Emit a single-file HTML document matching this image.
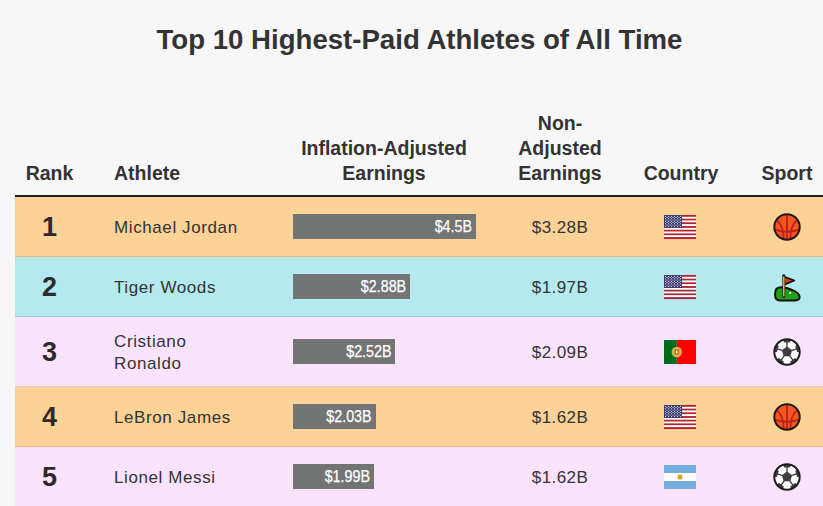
<!DOCTYPE html>
<html><head><meta charset="utf-8"><style>
html,body{margin:0;padding:0;}
body{width:823px;height:506px;overflow:hidden;background:#f7f7f7;position:relative;font-family:"Liberation Sans",sans-serif;}
.t{position:absolute;line-height:1;white-space:nowrap;}
.row{position:absolute;left:15px;width:808px;border-bottom:1px solid rgba(0,0,0,0.1);}
.hline{position:absolute;left:15px;width:808px;top:195px;height:2px;background:#1e1e1e;}
.bar{position:absolute;left:293px;height:24.5px;background:#737474;}
.ic{position:absolute;overflow:visible;}
</style></head><body>
<div class="hline"></div>
<div class="t" style="left:0px;top:26.14px;font-size:27.6px;font-weight:bold;color:#333;width:839px;text-align:center;">Top 10 Highest-Paid Athletes of All Time</div>
<div class="t" style="left:0px;top:163.89px;font-size:19.5px;font-weight:bold;color:#333333;width:99px;text-align:center;">Rank</div>
<div class="t" style="left:114px;top:163.89px;font-size:19.5px;font-weight:bold;color:#333333;">Athlete</div>
<div class="t" style="left:184px;top:138.99px;font-size:19.5px;font-weight:bold;color:#333333;width:400px;text-align:center;">Inflation-Adjusted</div>
<div class="t" style="left:184px;top:163.89px;font-size:19.5px;font-weight:bold;color:#333333;width:400px;text-align:center;">Earnings</div>
<div class="t" style="left:460px;top:114.09px;font-size:19.5px;font-weight:bold;color:#333333;width:200px;text-align:center;">Non-</div>
<div class="t" style="left:460px;top:138.99px;font-size:19.5px;font-weight:bold;color:#333333;width:200px;text-align:center;">Adjusted</div>
<div class="t" style="left:460px;top:163.89px;font-size:19.5px;font-weight:bold;color:#333333;width:200px;text-align:center;">Earnings</div>
<div class="t" style="left:581px;top:163.89px;font-size:19.5px;font-weight:bold;color:#333333;width:200px;text-align:center;">Country</div>
<div class="t" style="left:687px;top:163.89px;font-size:19.5px;font-weight:bold;color:#333333;width:200px;text-align:center;">Sport</div>
<div class="row" style="top:197px;height:59px;background:#fdd296"></div>
<div class="t" style="left:0px;top:214.04px;font-size:27px;font-weight:bold;color:#2b2b2b;width:99px;text-align:center;">1</div>
<div class="t" style="left:114px;top:219.01px;font-size:17px;font-weight:normal;color:#333333;letter-spacing:0.6px;">Michael Jordan</div>
<div class="bar" style="top:214.25px;width:183.00px"></div>
<div class="t" style="left:293px;top:218.31px;font-size:17px;font-weight:normal;color:#ffffff;width:179.0px;text-align:right;transform:scaleX(0.84);transform-origin:100% 50%;-webkit-text-stroke:0.25px #fff;">$4.5B</div>
<div class="t" style="left:460px;top:219.01px;font-size:17px;font-weight:normal;color:#333333;width:200px;text-align:center;letter-spacing:0.4px;">$3.28B</div>
<svg class="ic" style="left:664px;top:215px" width="32" height="24" viewBox="0 0 32 24"><rect x="0" y="0.000" width="32" height="1.896" fill="#b22234"/><rect x="0" y="1.846" width="32" height="1.896" fill="#ffffff"/><rect x="0" y="3.692" width="32" height="1.896" fill="#b22234"/><rect x="0" y="5.538" width="32" height="1.896" fill="#ffffff"/><rect x="0" y="7.385" width="32" height="1.896" fill="#b22234"/><rect x="0" y="9.231" width="32" height="1.896" fill="#ffffff"/><rect x="0" y="11.077" width="32" height="1.896" fill="#b22234"/><rect x="0" y="12.923" width="32" height="1.896" fill="#ffffff"/><rect x="0" y="14.769" width="32" height="1.896" fill="#b22234"/><rect x="0" y="16.615" width="32" height="1.896" fill="#ffffff"/><rect x="0" y="18.462" width="32" height="1.896" fill="#b22234"/><rect x="0" y="20.308" width="32" height="1.896" fill="#ffffff"/><rect x="0" y="22.154" width="32" height="1.896" fill="#b22234"/><rect x="0" y="0" width="18" height="12.923" fill="#3c3b6e"/><circle cx="1.50" cy="1.30" r="0.55" fill="#fff"/><circle cx="4.50" cy="1.30" r="0.55" fill="#fff"/><circle cx="7.50" cy="1.30" r="0.55" fill="#fff"/><circle cx="10.50" cy="1.30" r="0.55" fill="#fff"/><circle cx="13.50" cy="1.30" r="0.55" fill="#fff"/><circle cx="16.50" cy="1.30" r="0.55" fill="#fff"/><circle cx="1.50" cy="3.80" r="0.55" fill="#fff"/><circle cx="4.50" cy="3.80" r="0.55" fill="#fff"/><circle cx="7.50" cy="3.80" r="0.55" fill="#fff"/><circle cx="10.50" cy="3.80" r="0.55" fill="#fff"/><circle cx="13.50" cy="3.80" r="0.55" fill="#fff"/><circle cx="16.50" cy="3.80" r="0.55" fill="#fff"/><circle cx="1.50" cy="6.30" r="0.55" fill="#fff"/><circle cx="4.50" cy="6.30" r="0.55" fill="#fff"/><circle cx="7.50" cy="6.30" r="0.55" fill="#fff"/><circle cx="10.50" cy="6.30" r="0.55" fill="#fff"/><circle cx="13.50" cy="6.30" r="0.55" fill="#fff"/><circle cx="16.50" cy="6.30" r="0.55" fill="#fff"/><circle cx="1.50" cy="8.80" r="0.55" fill="#fff"/><circle cx="4.50" cy="8.80" r="0.55" fill="#fff"/><circle cx="7.50" cy="8.80" r="0.55" fill="#fff"/><circle cx="10.50" cy="8.80" r="0.55" fill="#fff"/><circle cx="13.50" cy="8.80" r="0.55" fill="#fff"/><circle cx="16.50" cy="8.80" r="0.55" fill="#fff"/><circle cx="1.50" cy="11.30" r="0.55" fill="#fff"/><circle cx="4.50" cy="11.30" r="0.55" fill="#fff"/><circle cx="7.50" cy="11.30" r="0.55" fill="#fff"/><circle cx="10.50" cy="11.30" r="0.55" fill="#fff"/><circle cx="13.50" cy="11.30" r="0.55" fill="#fff"/><circle cx="16.50" cy="11.30" r="0.55" fill="#fff"/><circle cx="3.00" cy="2.55" r="0.55" fill="#fff"/><circle cx="6.00" cy="2.55" r="0.55" fill="#fff"/><circle cx="9.00" cy="2.55" r="0.55" fill="#fff"/><circle cx="12.00" cy="2.55" r="0.55" fill="#fff"/><circle cx="15.00" cy="2.55" r="0.55" fill="#fff"/><circle cx="3.00" cy="5.05" r="0.55" fill="#fff"/><circle cx="6.00" cy="5.05" r="0.55" fill="#fff"/><circle cx="9.00" cy="5.05" r="0.55" fill="#fff"/><circle cx="12.00" cy="5.05" r="0.55" fill="#fff"/><circle cx="15.00" cy="5.05" r="0.55" fill="#fff"/><circle cx="3.00" cy="7.55" r="0.55" fill="#fff"/><circle cx="6.00" cy="7.55" r="0.55" fill="#fff"/><circle cx="9.00" cy="7.55" r="0.55" fill="#fff"/><circle cx="12.00" cy="7.55" r="0.55" fill="#fff"/><circle cx="15.00" cy="7.55" r="0.55" fill="#fff"/><circle cx="3.00" cy="10.05" r="0.55" fill="#fff"/><circle cx="6.00" cy="10.05" r="0.55" fill="#fff"/><circle cx="9.00" cy="10.05" r="0.55" fill="#fff"/><circle cx="12.00" cy="10.05" r="0.55" fill="#fff"/><circle cx="15.00" cy="10.05" r="0.55" fill="#fff"/></svg>
<svg class="ic" style="left:773.45px;top:213.35px" width="28" height="28" viewBox="0 0 28 28"><circle cx="14" cy="14" r="12.7" fill="#f4561d"/><g fill="none" stroke="#b8221e" stroke-width="1.8"><line x1="14" y1="1.5" x2="14" y2="26.5"/><path d="M3.7 7.3 Q11 13 10.6 26"/><path d="M24.3 7.3 Q17 13 17.4 26"/><path d="M1.4 16.4 Q14 21.5 26.6 16.4"/></g><circle cx="14" cy="14" r="12.7" fill="none" stroke="#231815" stroke-width="2"/></svg>
<div class="row" style="top:257px;height:59px;background:#b3e9ef"></div>
<div class="t" style="left:0px;top:274.04px;font-size:27px;font-weight:bold;color:#2b2b2b;width:99px;text-align:center;">2</div>
<div class="t" style="left:114px;top:279.01px;font-size:17px;font-weight:normal;color:#333333;letter-spacing:0.6px;">Tiger Woods</div>
<div class="bar" style="top:274.25px;width:117.12px"></div>
<div class="t" style="left:293px;top:278.31px;font-size:17px;font-weight:normal;color:#ffffff;width:113.12px;text-align:right;transform:scaleX(0.84);transform-origin:100% 50%;-webkit-text-stroke:0.25px #fff;">$2.88B</div>
<div class="t" style="left:460px;top:279.01px;font-size:17px;font-weight:normal;color:#333333;width:200px;text-align:center;letter-spacing:0.4px;">$1.97B</div>
<svg class="ic" style="left:664px;top:275px" width="32" height="24" viewBox="0 0 32 24"><rect x="0" y="0.000" width="32" height="1.896" fill="#b22234"/><rect x="0" y="1.846" width="32" height="1.896" fill="#ffffff"/><rect x="0" y="3.692" width="32" height="1.896" fill="#b22234"/><rect x="0" y="5.538" width="32" height="1.896" fill="#ffffff"/><rect x="0" y="7.385" width="32" height="1.896" fill="#b22234"/><rect x="0" y="9.231" width="32" height="1.896" fill="#ffffff"/><rect x="0" y="11.077" width="32" height="1.896" fill="#b22234"/><rect x="0" y="12.923" width="32" height="1.896" fill="#ffffff"/><rect x="0" y="14.769" width="32" height="1.896" fill="#b22234"/><rect x="0" y="16.615" width="32" height="1.896" fill="#ffffff"/><rect x="0" y="18.462" width="32" height="1.896" fill="#b22234"/><rect x="0" y="20.308" width="32" height="1.896" fill="#ffffff"/><rect x="0" y="22.154" width="32" height="1.896" fill="#b22234"/><rect x="0" y="0" width="18" height="12.923" fill="#3c3b6e"/><circle cx="1.50" cy="1.30" r="0.55" fill="#fff"/><circle cx="4.50" cy="1.30" r="0.55" fill="#fff"/><circle cx="7.50" cy="1.30" r="0.55" fill="#fff"/><circle cx="10.50" cy="1.30" r="0.55" fill="#fff"/><circle cx="13.50" cy="1.30" r="0.55" fill="#fff"/><circle cx="16.50" cy="1.30" r="0.55" fill="#fff"/><circle cx="1.50" cy="3.80" r="0.55" fill="#fff"/><circle cx="4.50" cy="3.80" r="0.55" fill="#fff"/><circle cx="7.50" cy="3.80" r="0.55" fill="#fff"/><circle cx="10.50" cy="3.80" r="0.55" fill="#fff"/><circle cx="13.50" cy="3.80" r="0.55" fill="#fff"/><circle cx="16.50" cy="3.80" r="0.55" fill="#fff"/><circle cx="1.50" cy="6.30" r="0.55" fill="#fff"/><circle cx="4.50" cy="6.30" r="0.55" fill="#fff"/><circle cx="7.50" cy="6.30" r="0.55" fill="#fff"/><circle cx="10.50" cy="6.30" r="0.55" fill="#fff"/><circle cx="13.50" cy="6.30" r="0.55" fill="#fff"/><circle cx="16.50" cy="6.30" r="0.55" fill="#fff"/><circle cx="1.50" cy="8.80" r="0.55" fill="#fff"/><circle cx="4.50" cy="8.80" r="0.55" fill="#fff"/><circle cx="7.50" cy="8.80" r="0.55" fill="#fff"/><circle cx="10.50" cy="8.80" r="0.55" fill="#fff"/><circle cx="13.50" cy="8.80" r="0.55" fill="#fff"/><circle cx="16.50" cy="8.80" r="0.55" fill="#fff"/><circle cx="1.50" cy="11.30" r="0.55" fill="#fff"/><circle cx="4.50" cy="11.30" r="0.55" fill="#fff"/><circle cx="7.50" cy="11.30" r="0.55" fill="#fff"/><circle cx="10.50" cy="11.30" r="0.55" fill="#fff"/><circle cx="13.50" cy="11.30" r="0.55" fill="#fff"/><circle cx="16.50" cy="11.30" r="0.55" fill="#fff"/><circle cx="3.00" cy="2.55" r="0.55" fill="#fff"/><circle cx="6.00" cy="2.55" r="0.55" fill="#fff"/><circle cx="9.00" cy="2.55" r="0.55" fill="#fff"/><circle cx="12.00" cy="2.55" r="0.55" fill="#fff"/><circle cx="15.00" cy="2.55" r="0.55" fill="#fff"/><circle cx="3.00" cy="5.05" r="0.55" fill="#fff"/><circle cx="6.00" cy="5.05" r="0.55" fill="#fff"/><circle cx="9.00" cy="5.05" r="0.55" fill="#fff"/><circle cx="12.00" cy="5.05" r="0.55" fill="#fff"/><circle cx="15.00" cy="5.05" r="0.55" fill="#fff"/><circle cx="3.00" cy="7.55" r="0.55" fill="#fff"/><circle cx="6.00" cy="7.55" r="0.55" fill="#fff"/><circle cx="9.00" cy="7.55" r="0.55" fill="#fff"/><circle cx="12.00" cy="7.55" r="0.55" fill="#fff"/><circle cx="15.00" cy="7.55" r="0.55" fill="#fff"/><circle cx="3.00" cy="10.05" r="0.55" fill="#fff"/><circle cx="6.00" cy="10.05" r="0.55" fill="#fff"/><circle cx="9.00" cy="10.05" r="0.55" fill="#fff"/><circle cx="12.00" cy="10.05" r="0.55" fill="#fff"/><circle cx="15.00" cy="10.05" r="0.55" fill="#fff"/></svg>
<svg class="ic" style="left:773px;top:273.5px" width="28" height="28" viewBox="0 0 28 28"><path d="M2.1 19.5 Q2.1 13.3 8 13.3 Q13 13.3 20 16.4 Q26.6 19.3 26.6 23 Q26.6 26.4 22 26.4 L7 26.4 Q2.1 26.4 2.1 21 Z" fill="#1fa01f" stroke="#111" stroke-width="2" stroke-linejoin="round"/><path d="M10.8 2.6 L21.4 6.5 L10.8 10.9 Z" fill="#ec3a22" stroke="#111" stroke-width="1.7" stroke-linejoin="round"/><line x1="10.8" y1="1.6" x2="10.8" y2="22.6" stroke="#111" stroke-width="2.8" stroke-linecap="round"/><line x1="10.8" y1="2.4" x2="10.8" y2="22.4" stroke="#f5c832" stroke-width="1.4"/><circle cx="17.2" cy="19" r="1.1" fill="#e8ffe8"/></svg>
<div class="row" style="top:317px;height:69px;background:#fbe3fe"></div>
<div class="t" style="left:0px;top:339.04px;font-size:27px;font-weight:bold;color:#2b2b2b;width:99px;text-align:center;">3</div>
<div class="t" style="left:114px;top:333.21px;font-size:17px;font-weight:normal;color:#333333;letter-spacing:0.6px;">Cristiano</div>
<div class="t" style="left:114px;top:354.61px;font-size:17px;font-weight:normal;color:#333333;letter-spacing:0.6px;">Ronaldo</div>
<div class="bar" style="top:339.25px;width:102.48px"></div>
<div class="t" style="left:293px;top:343.31px;font-size:17px;font-weight:normal;color:#ffffff;width:98.48px;text-align:right;transform:scaleX(0.84);transform-origin:100% 50%;-webkit-text-stroke:0.25px #fff;">$2.52B</div>
<div class="t" style="left:460px;top:344.01px;font-size:17px;font-weight:normal;color:#333333;width:200px;text-align:center;letter-spacing:0.4px;">$2.09B</div>
<svg class="ic" style="left:664px;top:340px" width="32" height="24" viewBox="0 0 32 24"><rect width="12.8" height="24" fill="#006a1e"/><rect x="12.8" width="19.2" height="24" fill="#ff0000"/><circle cx="12.8" cy="12" r="4.6" fill="#c9b24a" stroke="#d9bf3c" stroke-width="1.2"/><rect x="10.9" y="9.6" width="3.8" height="4.8" rx="1.2" fill="#e03a2a"/><rect x="11.9" y="10.6" width="1.8" height="2.8" fill="#ffffff"/></svg>
<svg class="ic" style="left:773.30px;top:338.35px" width="28" height="28" viewBox="0 0 28 28"><defs><clipPath id="sc1"><circle cx="14" cy="14" r="12.5"/></clipPath></defs><circle cx="14" cy="14" r="12.5" fill="#ffffff"/><g clip-path="url(#sc1)" fill="#3d3d3d" stroke="#3d3d3d" stroke-width="1.3" stroke-linejoin="round"><polygon points="14.00,9.40 18.37,12.58 16.70,17.72 11.30,17.72 9.63,12.58"/><line x1="14.00" y1="9.40" x2="14.00" y2="2.50"/><polygon points="14.00,-4.20 18.18,-1.16 16.59,3.76 11.41,3.76 9.82,-1.16"/><line x1="18.37" y1="12.58" x2="24.94" y2="10.45"/><polygon points="31.31,8.38 29.71,13.30 24.54,13.30 22.94,8.38 27.12,5.34"/><line x1="16.70" y1="17.72" x2="20.76" y2="23.30"/><polygon points="24.70,28.72 19.53,28.72 17.93,23.80 22.11,20.76 26.30,23.80"/><line x1="11.30" y1="17.72" x2="7.24" y2="23.30"/><polygon points="3.30,28.72 1.70,23.80 5.89,20.76 10.07,23.80 8.47,28.72"/><line x1="9.63" y1="12.58" x2="3.06" y2="10.45"/><polygon points="-3.31,8.38 0.88,5.34 5.06,8.38 3.46,13.30 -1.71,13.30"/></g><circle cx="14" cy="14" r="12.7" fill="none" stroke="#1e1e1e" stroke-width="2"/></svg>
<div class="row" style="top:387px;height:59px;background:#fdd296"></div>
<div class="t" style="left:0px;top:404.04px;font-size:27px;font-weight:bold;color:#2b2b2b;width:99px;text-align:center;">4</div>
<div class="t" style="left:114px;top:409.01px;font-size:17px;font-weight:normal;color:#333333;letter-spacing:0.6px;">LeBron James</div>
<div class="bar" style="top:404.25px;width:82.55px"></div>
<div class="t" style="left:293px;top:408.31px;font-size:17px;font-weight:normal;color:#ffffff;width:78.55px;text-align:right;transform:scaleX(0.84);transform-origin:100% 50%;-webkit-text-stroke:0.25px #fff;">$2.03B</div>
<div class="t" style="left:460px;top:409.01px;font-size:17px;font-weight:normal;color:#333333;width:200px;text-align:center;letter-spacing:0.4px;">$1.62B</div>
<svg class="ic" style="left:664px;top:405px" width="32" height="24" viewBox="0 0 32 24"><rect x="0" y="0.000" width="32" height="1.896" fill="#b22234"/><rect x="0" y="1.846" width="32" height="1.896" fill="#ffffff"/><rect x="0" y="3.692" width="32" height="1.896" fill="#b22234"/><rect x="0" y="5.538" width="32" height="1.896" fill="#ffffff"/><rect x="0" y="7.385" width="32" height="1.896" fill="#b22234"/><rect x="0" y="9.231" width="32" height="1.896" fill="#ffffff"/><rect x="0" y="11.077" width="32" height="1.896" fill="#b22234"/><rect x="0" y="12.923" width="32" height="1.896" fill="#ffffff"/><rect x="0" y="14.769" width="32" height="1.896" fill="#b22234"/><rect x="0" y="16.615" width="32" height="1.896" fill="#ffffff"/><rect x="0" y="18.462" width="32" height="1.896" fill="#b22234"/><rect x="0" y="20.308" width="32" height="1.896" fill="#ffffff"/><rect x="0" y="22.154" width="32" height="1.896" fill="#b22234"/><rect x="0" y="0" width="18" height="12.923" fill="#3c3b6e"/><circle cx="1.50" cy="1.30" r="0.55" fill="#fff"/><circle cx="4.50" cy="1.30" r="0.55" fill="#fff"/><circle cx="7.50" cy="1.30" r="0.55" fill="#fff"/><circle cx="10.50" cy="1.30" r="0.55" fill="#fff"/><circle cx="13.50" cy="1.30" r="0.55" fill="#fff"/><circle cx="16.50" cy="1.30" r="0.55" fill="#fff"/><circle cx="1.50" cy="3.80" r="0.55" fill="#fff"/><circle cx="4.50" cy="3.80" r="0.55" fill="#fff"/><circle cx="7.50" cy="3.80" r="0.55" fill="#fff"/><circle cx="10.50" cy="3.80" r="0.55" fill="#fff"/><circle cx="13.50" cy="3.80" r="0.55" fill="#fff"/><circle cx="16.50" cy="3.80" r="0.55" fill="#fff"/><circle cx="1.50" cy="6.30" r="0.55" fill="#fff"/><circle cx="4.50" cy="6.30" r="0.55" fill="#fff"/><circle cx="7.50" cy="6.30" r="0.55" fill="#fff"/><circle cx="10.50" cy="6.30" r="0.55" fill="#fff"/><circle cx="13.50" cy="6.30" r="0.55" fill="#fff"/><circle cx="16.50" cy="6.30" r="0.55" fill="#fff"/><circle cx="1.50" cy="8.80" r="0.55" fill="#fff"/><circle cx="4.50" cy="8.80" r="0.55" fill="#fff"/><circle cx="7.50" cy="8.80" r="0.55" fill="#fff"/><circle cx="10.50" cy="8.80" r="0.55" fill="#fff"/><circle cx="13.50" cy="8.80" r="0.55" fill="#fff"/><circle cx="16.50" cy="8.80" r="0.55" fill="#fff"/><circle cx="1.50" cy="11.30" r="0.55" fill="#fff"/><circle cx="4.50" cy="11.30" r="0.55" fill="#fff"/><circle cx="7.50" cy="11.30" r="0.55" fill="#fff"/><circle cx="10.50" cy="11.30" r="0.55" fill="#fff"/><circle cx="13.50" cy="11.30" r="0.55" fill="#fff"/><circle cx="16.50" cy="11.30" r="0.55" fill="#fff"/><circle cx="3.00" cy="2.55" r="0.55" fill="#fff"/><circle cx="6.00" cy="2.55" r="0.55" fill="#fff"/><circle cx="9.00" cy="2.55" r="0.55" fill="#fff"/><circle cx="12.00" cy="2.55" r="0.55" fill="#fff"/><circle cx="15.00" cy="2.55" r="0.55" fill="#fff"/><circle cx="3.00" cy="5.05" r="0.55" fill="#fff"/><circle cx="6.00" cy="5.05" r="0.55" fill="#fff"/><circle cx="9.00" cy="5.05" r="0.55" fill="#fff"/><circle cx="12.00" cy="5.05" r="0.55" fill="#fff"/><circle cx="15.00" cy="5.05" r="0.55" fill="#fff"/><circle cx="3.00" cy="7.55" r="0.55" fill="#fff"/><circle cx="6.00" cy="7.55" r="0.55" fill="#fff"/><circle cx="9.00" cy="7.55" r="0.55" fill="#fff"/><circle cx="12.00" cy="7.55" r="0.55" fill="#fff"/><circle cx="15.00" cy="7.55" r="0.55" fill="#fff"/><circle cx="3.00" cy="10.05" r="0.55" fill="#fff"/><circle cx="6.00" cy="10.05" r="0.55" fill="#fff"/><circle cx="9.00" cy="10.05" r="0.55" fill="#fff"/><circle cx="12.00" cy="10.05" r="0.55" fill="#fff"/><circle cx="15.00" cy="10.05" r="0.55" fill="#fff"/></svg>
<svg class="ic" style="left:773.45px;top:403.35px" width="28" height="28" viewBox="0 0 28 28"><circle cx="14" cy="14" r="12.7" fill="#f4561d"/><g fill="none" stroke="#b8221e" stroke-width="1.8"><line x1="14" y1="1.5" x2="14" y2="26.5"/><path d="M3.7 7.3 Q11 13 10.6 26"/><path d="M24.3 7.3 Q17 13 17.4 26"/><path d="M1.4 16.4 Q14 21.5 26.6 16.4"/></g><circle cx="14" cy="14" r="12.7" fill="none" stroke="#231815" stroke-width="2"/></svg>
<div class="row" style="top:447px;height:59px;background:#fbe3fe"></div>
<div class="t" style="left:0px;top:464.04px;font-size:27px;font-weight:bold;color:#2b2b2b;width:99px;text-align:center;">5</div>
<div class="t" style="left:114px;top:469.01px;font-size:17px;font-weight:normal;color:#333333;letter-spacing:0.6px;">Lionel Messi</div>
<div class="bar" style="top:464.25px;width:80.93px"></div>
<div class="t" style="left:293px;top:468.31px;font-size:17px;font-weight:normal;color:#ffffff;width:76.93px;text-align:right;transform:scaleX(0.84);transform-origin:100% 50%;-webkit-text-stroke:0.25px #fff;">$1.99B</div>
<div class="t" style="left:460px;top:469.01px;font-size:17px;font-weight:normal;color:#333333;width:200px;text-align:center;letter-spacing:0.4px;">$1.62B</div>
<svg class="ic" style="left:664px;top:465px" width="32" height="24" viewBox="0 0 32 24"><rect width="32" height="24" fill="#74acdf"/><rect y="8" width="32" height="8" fill="#ffffff"/><circle cx="16" cy="12" r="2.6" fill="#d9a520"/></svg>
<svg class="ic" style="left:773.30px;top:463.35px" width="28" height="28" viewBox="0 0 28 28"><defs><clipPath id="sc2"><circle cx="14" cy="14" r="12.5"/></clipPath></defs><circle cx="14" cy="14" r="12.5" fill="#ffffff"/><g clip-path="url(#sc2)" fill="#3d3d3d" stroke="#3d3d3d" stroke-width="1.3" stroke-linejoin="round"><polygon points="14.00,9.40 18.37,12.58 16.70,17.72 11.30,17.72 9.63,12.58"/><line x1="14.00" y1="9.40" x2="14.00" y2="2.50"/><polygon points="14.00,-4.20 18.18,-1.16 16.59,3.76 11.41,3.76 9.82,-1.16"/><line x1="18.37" y1="12.58" x2="24.94" y2="10.45"/><polygon points="31.31,8.38 29.71,13.30 24.54,13.30 22.94,8.38 27.12,5.34"/><line x1="16.70" y1="17.72" x2="20.76" y2="23.30"/><polygon points="24.70,28.72 19.53,28.72 17.93,23.80 22.11,20.76 26.30,23.80"/><line x1="11.30" y1="17.72" x2="7.24" y2="23.30"/><polygon points="3.30,28.72 1.70,23.80 5.89,20.76 10.07,23.80 8.47,28.72"/><line x1="9.63" y1="12.58" x2="3.06" y2="10.45"/><polygon points="-3.31,8.38 0.88,5.34 5.06,8.38 3.46,13.30 -1.71,13.30"/></g><circle cx="14" cy="14" r="12.7" fill="none" stroke="#1e1e1e" stroke-width="2"/></svg>
</body></html>
